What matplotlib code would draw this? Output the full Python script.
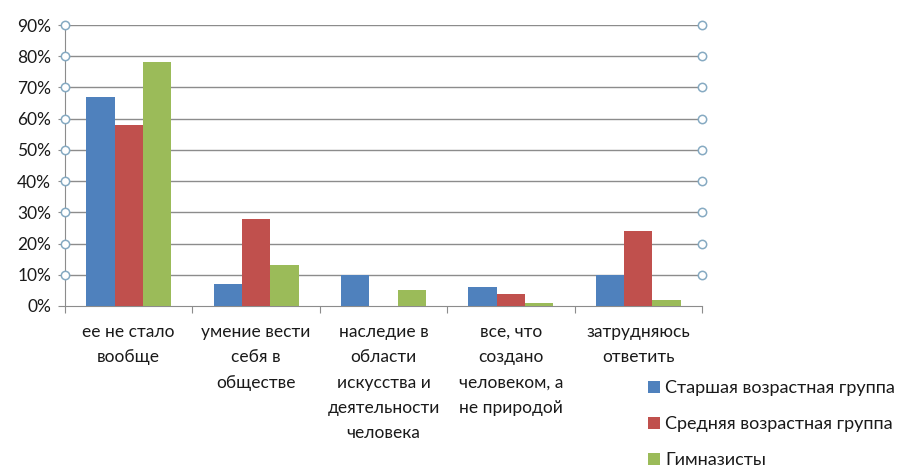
import matplotlib.pyplot as plt
import numpy as np

plt.rcParams['font.family'] = ['Lato', 'DejaVu Sans']

categories = ["ее не стало\nвообще",
              "умение вести\nсебя в\nобществе",
              "наследие в\nобласти\nискусства и\nдеятельности\nчеловека",
              "все, что\nсоздано\nчеловеком, а\nне природой",
              "затрудняюсь\nответить"]
series_names = ["Старшая возрастная группа", "Средняя возрастная группа", "Гимназисты"]
older = [0.67, 0.07, 0.10, 0.06, 0.10]
middle = [0.58, 0.28, 0.00, 0.04, 0.24]
gymn = [0.78, 0.13, 0.05, 0.01, 0.02]
yticks = [0.0, 0.1, 0.2, 0.3, 0.4, 0.5, 0.6, 0.7, 0.8, 0.9]

colors = ['#4F81BD', '#C0504D', '#9BBB59']
grid_col = '#8C8C8C'
txt_col = '#1A1A1A'

fig = plt.figure(figsize=(9, 4.67), dpi=100)
ax = fig.add_axes([65/900, 1-306/467, (702-65)/900, (306-25)/467])

x = np.arange(len(categories))
w = 1/4.5
for i, vals in enumerate([older, middle, gymn]):
    ax.bar(x + (i-1)*w, vals, width=w, color=colors[i], label=series_names[i], zorder=3)

ax.set_xlim(-0.5, len(categories)-0.5)
ax.set_ylim(0, 0.9)

# gridlines
for yv in yticks[1:]:
    ax.axhline(yv, color=grid_col, lw=1.0, zorder=1)
# circle markers on both sides
ax.plot([-0.5]*9, yticks[1:], 'o', ms=6, mfc='white', mec='#86AAC2', mew=1.1, zorder=5, clip_on=False)
ax.plot([len(categories)-0.5]*9, yticks[1:], 'o', ms=6, mfc='white', mec='#86AAC2', mew=1.1, zorder=5, clip_on=False)

for s in ['top', 'right']:
    ax.spines[s].set_visible(False)
for s in ['left', 'bottom']:
    ax.spines[s].set_color(grid_col)

ax.set_yticks(yticks)
ax.set_yticklabels([f"{int(round(v*100))}%" for v in yticks], fontsize=12.5, color=txt_col)
ax.tick_params(axis='y', length=5, color=grid_col, pad=5)

ax.set_xticks(np.arange(len(categories)+1) - 0.5)
ax.set_xticklabels([])
ax.set_xticks(x, minor=True)
ax.set_xticklabels(categories, minor=True, fontsize=12.5, color=txt_col, linespacing=1.72, va='top')
ax.tick_params(axis='x', which='minor', length=0, pad=13)
ax.tick_params(axis='x', which='major', length=5, color=grid_col, direction='out')

handles, labels = ax.get_legend_handles_labels()
leg = fig.legend(handles, labels, loc='upper left', bbox_to_anchor=(648/900, 1-380/467),
                 frameon=False, fontsize=13, handlelength=0.65, handleheight=0.65,
                 handletextpad=0.3, labelspacing=1.12, borderaxespad=0, borderpad=0)
for t in leg.get_texts():
    t.set_color(txt_col)

fig.savefig('out.png', dpi=100)
